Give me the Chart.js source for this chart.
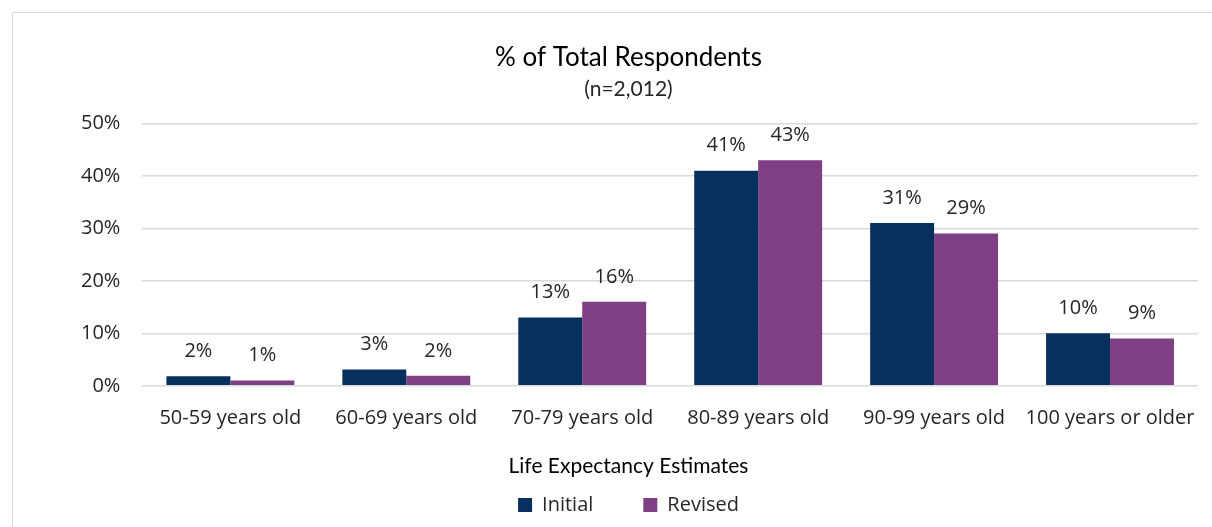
<!DOCTYPE html>
<html>
<head>
<meta charset="utf-8">
<script src="https://cdn.jsdelivr.net/npm/chart.js@4"></script>
<style>
  body { margin: 0; background: #fff; }
  #frame { position: absolute; left: 12px; top: 12px; width: 1210px; height: 530px; border: 1px solid #d9d9d9; }
  #wrap { position: absolute; left: 0; top: 0; width: 1212px; height: 527px; }
</style>
</head>
<body>
<div id="frame"></div>
<div id="wrap"><canvas id="chart" width="1212" height="527"></canvas></div>
<script>
const categories = ['50-59 years old', '60-69 years old', '70-79 years old', '80-89 years old', '90-99 years old', '100 years or older'];
const initialValues = [1.8, 3.1, 13, 41, 31, 10];
const revisedValues = [1.0, 1.9, 16, 43, 29, 9];
const yTicks = [0, 10, 20, 30, 40, 50];

const labelFont = "'Open Sans', 'Noto Sans', sans-serif";
const titleFont = "Lato, 'Noto Sans', sans-serif";

// labels above each bar
const valueLabels = {
    id: 'valueLabels',
    afterDatasetsDraw(chart) {
        const ctx = chart.ctx;
        ctx.save();
        ctx.font = '20px ' + labelFont;
        ctx.fillStyle = '#262626';
        ctx.textAlign = 'center';
        ctx.textBaseline = 'middle';
        chart.data.datasets.forEach((ds, i) => {
            chart.getDatasetMeta(i).data.forEach((bar, j) => {
                ctx.fillText(Math.round(ds.data[j]) + '%', bar.x, bar.y - 25);
            });
        });
        ctx.restore();
    }
};

new Chart(document.getElementById('chart'), {
    type: 'bar',
    data: {
        labels: categories,
        datasets: [
            { label: 'Initial', data: initialValues, backgroundColor: '#07305f' },
            { label: 'Revised', data: revisedValues, backgroundColor: '#7f3f85' }
        ]
    },
    options: {
        responsive: false,
        animation: false,
        layout: { padding: { left: 59, right: 14, top: 30, bottom: 2 } },
        datasets: { bar: { categoryPercentage: 0.727, barPercentage: 1 } },
        plugins: {
            title: {
                display: true,
                text: '% of Total Respondents',
                color: '#000',
                font: { family: titleFont, size: 26, weight: 'normal' },
                padding: { top: 12, bottom: 3 }
            },
            subtitle: {
                display: true,
                text: '(n=2,012)',
                color: '#262626',
                font: { family: titleFont, size: 21 },
                padding: { bottom: 22 }
            },
            legend: {
                position: 'bottom',
                title: {
                    display: true,
                    text: 'Life Expectancy Estimates',
                    color: '#000',
                    font: { family: titleFont, size: 21 },
                    padding: { top: 14, bottom: 4 }
                },
                labels: {
                    color: '#262626',
                    font: { family: labelFont, size: 20 },
                    boxWidth: 14,
                    boxHeight: 14,
                    padding: 10,
                    generateLabels(chart) {
                        const items = Chart.defaults.plugins.legend.labels.generateLabels(chart);
                        // widen the gap after the first entry
                        items[0].text = items[0].text + '\u2003\u2003';
                        return items;
                    }
                }
            },
            tooltip: { enabled: false }
        },
        scales: {
            x: {
                grid: { display: false },
                border: { display: false },
                afterFit(axis) { axis.paddingLeft = 0; axis.paddingRight = 0; },
                ticks: {
                    color: '#262626',
                    font: { family: labelFont, size: 20 },
                    padding: 12,
                    maxRotation: 0,
                    autoSkip: false
                }
            },
            y: {
                min: 0,
                max: 50,
                afterBuildTicks(axis) { axis.ticks = yTicks.map(v => ({ value: v })); },
                grid: { color: '#d9d9d9', lineWidth: 1.5, drawTicks: false },
                border: { display: false },
                ticks: {
                    color: '#262626',
                    font: { family: labelFont, size: 20 },
                    padding: 22,
                    callback: v => v + '%'
                }
            }
        }
    },
    plugins: [valueLabels]
});
</script>
</body>
</html>
